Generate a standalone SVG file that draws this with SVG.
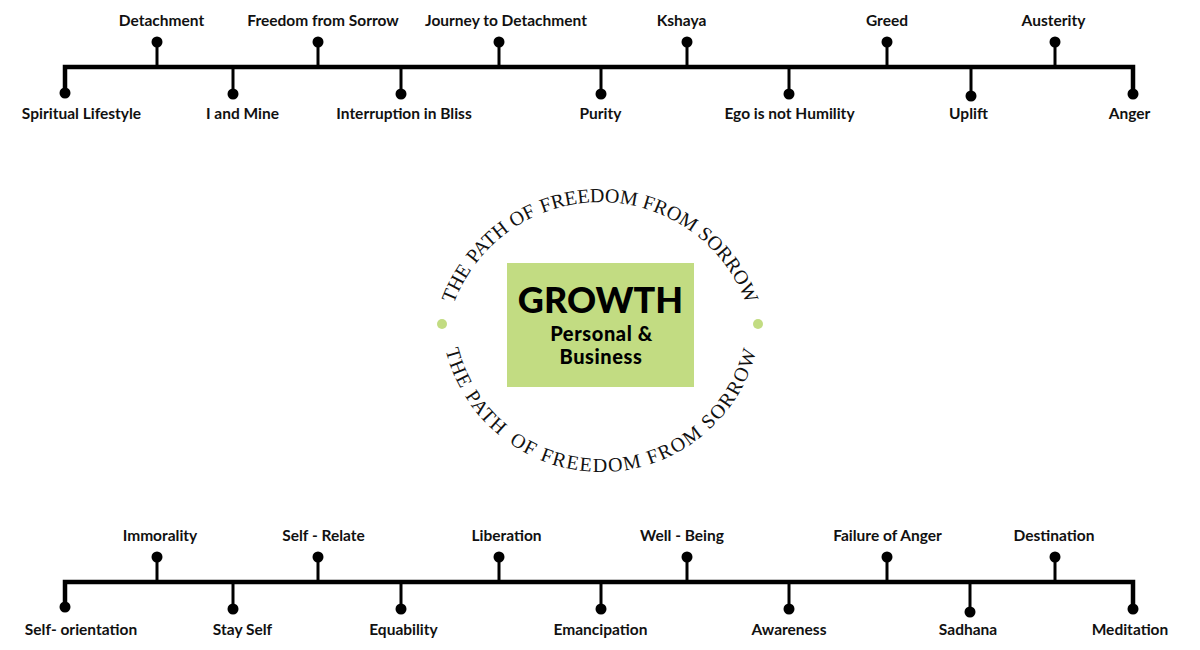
<svg xmlns="http://www.w3.org/2000/svg" width="1200" height="650" viewBox="0 0 1200 650">
<defs>
<style>
.lbl{font-family:Lato,"Liberation Sans",sans-serif;font-weight:700;font-size:15.5px;fill:#111;text-anchor:middle}
.main{fill:none;stroke:#000;stroke-width:4.5;stroke-linejoin:miter}
.tick{stroke:#000;stroke-width:3}
.dot{fill:#000}
.arc{font-family:"Liberation Serif","Times New Roman",serif;font-size:20px;fill:#111}
.arcb{letter-spacing:1.5px}
.gdot{fill:#c2dc82}
</style>
<path id="topArc" d="M 444,358 A 156 156 0 0 1 756,358"/>
<path id="botArc" d="M 441,312 A 160 160 0 0 0 761,312"/>
</defs>
<rect width="1200" height="650" fill="#fff"/>

<g id="connectors">
<path class="main" d="M65,93 V67 H1133 V94"/>
<line class="tick" x1="157" y1="67" x2="157" y2="42"/>
<line class="tick" x1="318" y1="67" x2="318" y2="42"/>
<line class="tick" x1="499" y1="67" x2="499" y2="42"/>
<line class="tick" x1="687" y1="67" x2="687" y2="42"/>
<line class="tick" x1="887" y1="67" x2="887" y2="42"/>
<line class="tick" x1="1055" y1="67" x2="1055" y2="42"/>
<line class="tick" x1="233" y1="67" x2="233" y2="94"/>
<line class="tick" x1="401" y1="67" x2="401" y2="94"/>
<line class="tick" x1="601" y1="67" x2="601" y2="94"/>
<line class="tick" x1="789" y1="67" x2="789" y2="94"/>
<line class="tick" x1="971" y1="67" x2="971" y2="96"/>

<path class="main" d="M65,607 V582 H1133 V609"/>
<line class="tick" x1="157" y1="582" x2="157" y2="557"/>
<line class="tick" x1="318" y1="582" x2="318" y2="557"/>
<line class="tick" x1="499" y1="582" x2="499" y2="557"/>
<line class="tick" x1="687" y1="582" x2="687" y2="557"/>
<line class="tick" x1="887" y1="582" x2="887" y2="557"/>
<line class="tick" x1="1055" y1="582" x2="1055" y2="557"/>
<line class="tick" x1="233" y1="582" x2="233" y2="609"/>
<line class="tick" x1="401" y1="582" x2="401" y2="609"/>
<line class="tick" x1="601" y1="582" x2="601" y2="609"/>
<line class="tick" x1="789" y1="582" x2="789" y2="609"/>
<line class="tick" x1="970" y1="582" x2="970" y2="612"/>
</g>

<g id="top-timeline">
<g id="n-detachment"><circle class="dot" cx="157" cy="42" r="5.5"/><text class="lbl" x="161.5" y="26">Detachment</text></g>
<g id="n-freedom"><circle class="dot" cx="318" cy="42" r="5.5"/><text class="lbl" x="323" y="26">Freedom from Sorrow</text></g>
<g id="n-journey"><circle class="dot" cx="499" cy="42" r="5.5"/><text class="lbl" x="506" y="26">Journey to Detachment</text></g>
<g id="n-kshaya"><circle class="dot" cx="687" cy="42" r="5.5"/><text class="lbl" x="681.5" y="26">Kshaya</text></g>
<g id="n-greed"><circle class="dot" cx="887" cy="42" r="5.5"/><text class="lbl" x="887" y="26">Greed</text></g>
<g id="n-austerity"><circle class="dot" cx="1055" cy="42" r="5.5"/><text class="lbl" x="1053.5" y="26">Austerity</text></g>
<g id="n-spiritual"><circle class="dot" cx="65" cy="93" r="5.5"/><text class="lbl" x="81.5" y="119">Spiritual Lifestyle</text></g>
<g id="n-iandmine"><circle class="dot" cx="233" cy="94" r="5.5"/><text class="lbl" x="242.5" y="119">I and Mine</text></g>
<g id="n-interruption"><circle class="dot" cx="401" cy="94" r="5.5"/><text class="lbl" x="404" y="119">Interruption in Bliss</text></g>
<g id="n-purity"><circle class="dot" cx="601" cy="94" r="5.5"/><text class="lbl" x="600.5" y="119">Purity</text></g>
<g id="n-ego"><circle class="dot" cx="789" cy="94" r="5.5"/><text class="lbl" x="789.5" y="119">Ego is not Humility</text></g>
<g id="n-uplift"><circle class="dot" cx="971" cy="96" r="5.5"/><text class="lbl" x="968.5" y="119">Uplift</text></g>
<g id="n-anger"><circle class="dot" cx="1133" cy="94" r="5.5"/><text class="lbl" x="1129.5" y="119">Anger</text></g>
</g>

<g id="bottom-timeline">
<g id="n-immorality"><circle class="dot" cx="157" cy="557" r="5.5"/><text class="lbl" x="160" y="541">Immorality</text></g>
<g id="n-selfrelate"><circle class="dot" cx="318" cy="557" r="5.5"/><text class="lbl" x="323.5" y="541">Self - Relate</text></g>
<g id="n-liberation"><circle class="dot" cx="499" cy="557" r="5.5"/><text class="lbl" x="506.5" y="541">Liberation</text></g>
<g id="n-wellbeing"><circle class="dot" cx="687" cy="557" r="5.5"/><text class="lbl" x="682" y="541">Well - Being</text></g>
<g id="n-failure"><circle class="dot" cx="887" cy="557" r="5.5"/><text class="lbl" x="887.5" y="541">Failure of Anger</text></g>
<g id="n-destination"><circle class="dot" cx="1055" cy="557" r="5.5"/><text class="lbl" x="1054" y="541">Destination</text></g>
<g id="n-selforientation"><circle class="dot" cx="65" cy="607" r="5.5"/><text class="lbl" x="81" y="635">Self- orientation</text></g>
<g id="n-stayself"><circle class="dot" cx="233" cy="609" r="5.5"/><text class="lbl" x="242.5" y="635">Stay Self</text></g>
<g id="n-equability"><circle class="dot" cx="401" cy="609" r="5.5"/><text class="lbl" x="403.5" y="635">Equability</text></g>
<g id="n-emancipation"><circle class="dot" cx="601" cy="609" r="5.5"/><text class="lbl" x="600.5" y="635">Emancipation</text></g>
<g id="n-awareness"><circle class="dot" cx="789" cy="609" r="5.5"/><text class="lbl" x="789" y="635">Awareness</text></g>
<g id="n-sadhana"><circle class="dot" cx="970" cy="612" r="5.5"/><text class="lbl" x="968" y="635">Sadhana</text></g>
<g id="n-meditation"><circle class="dot" cx="1133" cy="609" r="5.5"/><text class="lbl" x="1130" y="635">Meditation</text></g>
</g>

<g id="center">
<g id="arc-top">
<text class="arc"><textPath href="#topArc" startOffset="55.3">THE</textPath></text>
<text class="arc"><textPath href="#topArc" startOffset="100.5">PATH</textPath></text>
<text class="arc"><textPath href="#topArc" startOffset="154">OF</textPath></text>
<text class="arc"><textPath href="#topArc" startOffset="186">FREEDOM</textPath></text>
<text class="arc"><textPath href="#topArc" startOffset="287">FROM</textPath></text>
<text class="arc"><textPath href="#topArc" startOffset="349.2">SORROW</textPath></text>
</g>
<g id="arc-bottom">
<text class="arc arcb"><textPath href="#botArc" startOffset="38.3">THE</textPath></text>
<text class="arc arcb"><textPath href="#botArc" startOffset="88.2">PATH</textPath></text>
<text class="arc arcb"><textPath href="#botArc" startOffset="152.9">OF</textPath></text>
<text class="arc arcb"><textPath href="#botArc" startOffset="188">FREEDOM</textPath></text>
<text class="arc arcb"><textPath href="#botArc" startOffset="300.5">FROM</textPath></text>
<text class="arc arcb"><textPath href="#botArc" startOffset="369.7">SORROW</textPath></text>
</g>
<circle class="gdot" cx="442" cy="324" r="5"/>
<circle class="gdot" cx="758" cy="324" r="5"/>
<g id="n-growth">
<rect x="507" y="263" width="187" height="124" fill="#c2dc82"/>
<text x="600.5" y="313" text-anchor="middle" font-family="Lato,'Liberation Sans',sans-serif" font-weight="900" font-size="36" fill="#000">GROWTH</text>
<text x="601.5" y="341" text-anchor="middle" font-family="Lato,'Liberation Sans',sans-serif" font-weight="900" font-size="20" letter-spacing="0.6" fill="#000">Personal &amp;</text>
<text x="601" y="364" text-anchor="middle" font-family="Lato,'Liberation Sans',sans-serif" font-weight="900" font-size="20" letter-spacing="0.6" fill="#000">Business</text>
</g>
</g>
</svg>
